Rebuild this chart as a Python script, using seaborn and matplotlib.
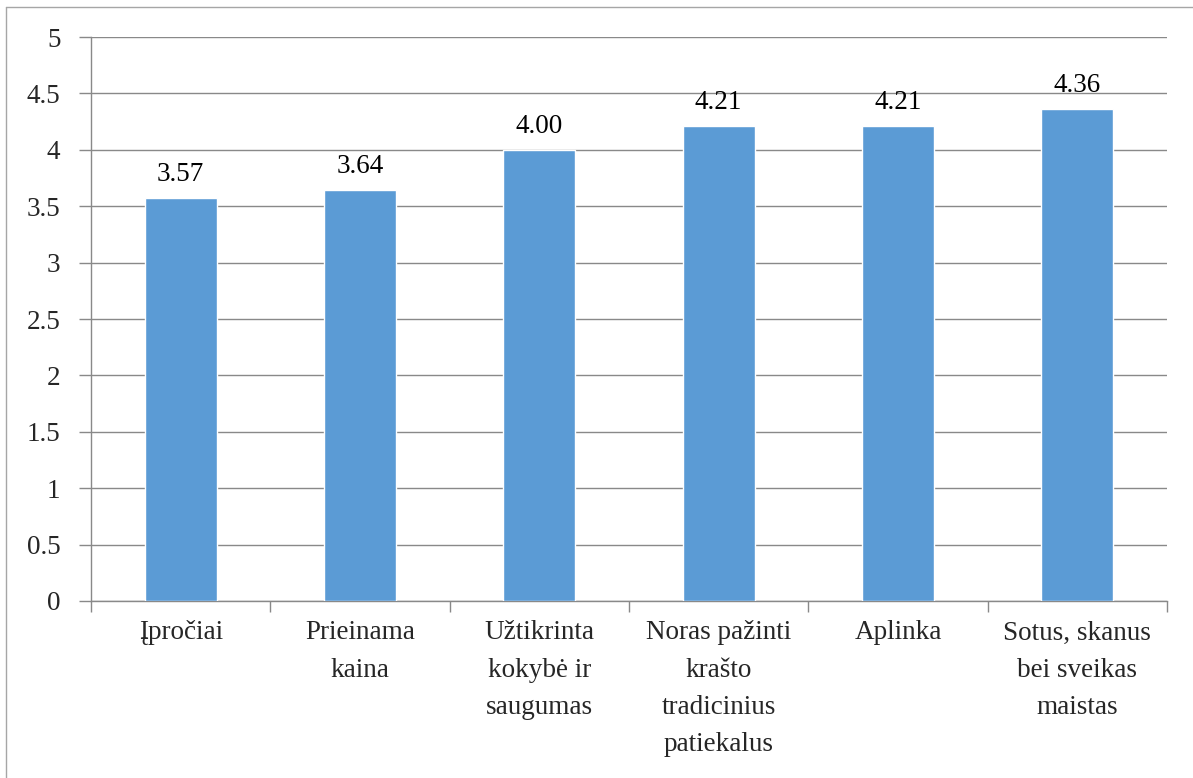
import seaborn as sns
import matplotlib.pyplot as plt
import pandas as pd
from matplotlib.lines import Line2D

# Data
categories = ['Įpročiai', 'Prieinama\nkaina', 'Užtikrinta\nkokybė ir\nsaugumas',
              'Noras pažinti\nkrašto\ntradicinius\npatiekalus', 'Aplinka',
              'Sotus, skanus\nbei sveikas\nmaistas']
values = [3.57, 3.64, 4.00, 4.21, 4.21, 4.36]
yticks = [0, 0.5, 1, 1.5, 2, 2.5, 3, 3.5, 4, 4.5, 5]

df = pd.DataFrame({'kategorija': categories, 'vidurkis': values})

sns.set_style('white')
plt.rcParams['font.family'] = ['Liberation Serif', 'DejaVu Serif']

W, H = 1193, 778
fig = plt.figure(figsize=(W / 100, H / 100), dpi=100)
ax = fig.add_axes([91 / W, 1 - 601 / H, (1167 - 91) / W, (601 - 37) / H])

sns.barplot(data=df, x='kategorija', y='vidurkis', color='#5b9bd5',
            width=0.4, saturation=1, ax=ax, zorder=3)

for i, v in enumerate(values):
    ax.text(i, v + 0.1, f'{v:.2f}', ha='center', va='bottom', fontsize=19.5, color='black')

grid_c = '#898989'
ax.set_ylim(0, 5)
ax.set_xlim(-0.5, len(categories) - 0.5)
ax.set_yticks(yticks)
ax.set_yticklabels([f'{t:g}' for t in yticks], fontsize=19.5)
ax.yaxis.grid(True, color=grid_c, linewidth=1, zorder=0)
ax.set_axisbelow(True)
ax.tick_params(axis='y', length=9, width=1, color=grid_c, pad=13, left=True)
ax.set_xticks(range(len(categories)))
ax.set_xticklabels(categories, fontsize=19.5, linespacing=1.64, va='top')
ax.tick_params(axis='x', length=0, pad=14)
ax.set_xticks([i - 0.5 for i in range(len(categories) + 1)], minor=True)
ax.tick_params(axis='x', which='minor', length=8, width=1, color=grid_c, bottom=True)
ax.set_xlabel('')
ax.set_ylabel('')

for s in ['top', 'right']:
    ax.spines[s].set_visible(False)
for s in ['left', 'bottom']:
    ax.spines[s].set_color(grid_c)
    ax.spines[s].set_linewidth(1)

# outer chart frame (top and left edges visible)
frame_c = '#a6a6a6'
fig.add_artist(Line2D([6 / W, 6 / W], [0, 1 - 7 / H], color=frame_c, lw=1, transform=fig.transFigure))
fig.add_artist(Line2D([6 / W, 1], [1 - 7 / H, 1 - 7 / H], color=frame_c, lw=1, transform=fig.transFigure))

fig.savefig('out.png', dpi=100, facecolor='white')
